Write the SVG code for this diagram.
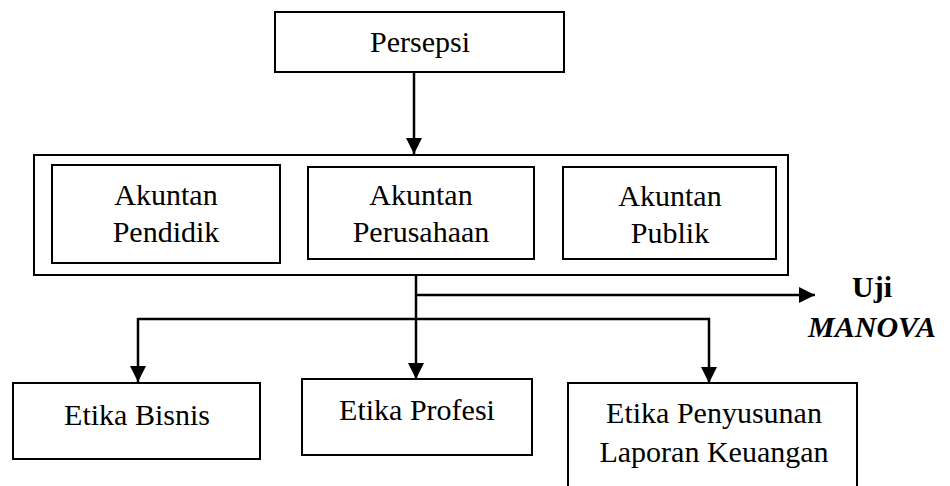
<svg xmlns="http://www.w3.org/2000/svg" width="950" height="486" viewBox="0 0 950 486">
<defs>
<marker id="ah" markerUnits="userSpaceOnUse" markerWidth="16" markerHeight="16" refX="15" refY="7.5" orient="auto" viewBox="0 0 15 15">
<path d="M0,0 L15,7.5 L0,15 z" fill="#000"/>
</marker>
</defs>
<rect width="950" height="486" fill="#fff"/>
<g id="persepsi">
<rect x="275" y="12" width="289" height="60" fill="#fff" stroke="#000" stroke-width="2"/>
<text x="420" y="52" font-family="Liberation Serif" font-size="30" text-anchor="middle">Persepsi</text>
</g>
<g id="akuntan-group">
<rect x="34" y="155" width="754" height="120" fill="#fff" stroke="#000" stroke-width="2"/>
</g>
<g id="akuntan-pendidik">
<rect x="52" y="165" width="228" height="98" fill="#fff" stroke="#000" stroke-width="2"/>
<text x="166" y="205" font-family="Liberation Serif" font-size="30" text-anchor="middle">Akuntan</text>
<text x="166" y="242" font-family="Liberation Serif" font-size="30" text-anchor="middle">Pendidik</text>
</g>
<g id="akuntan-perusahaan">
<rect x="308" y="167" width="226" height="92" fill="#fff" stroke="#000" stroke-width="2"/>
<text x="421" y="205" font-family="Liberation Serif" font-size="30" text-anchor="middle">Akuntan</text>
<text x="421" y="242" font-family="Liberation Serif" font-size="30" text-anchor="middle">Perusahaan</text>
</g>
<g id="akuntan-publik">
<rect x="563" y="167" width="213" height="92" fill="#fff" stroke="#000" stroke-width="2"/>
<text x="670" y="206" font-family="Liberation Serif" font-size="30" text-anchor="middle">Akuntan</text>
<text x="670" y="243" font-family="Liberation Serif" font-size="30" text-anchor="middle">Publik</text>
</g>
<g id="uji-manova">
<text x="872" y="297" font-family="Liberation Serif" font-size="30" font-weight="bold" text-anchor="middle">Uji</text>
<text x="872" y="337" font-family="Liberation Serif" font-size="30" font-weight="bold" font-style="italic" text-anchor="middle">MANOVA</text>
</g>
<g id="etika-bisnis">
<rect x="13" y="383" width="247" height="76" fill="#fff" stroke="#000" stroke-width="2"/>
<text x="137" y="425" font-family="Liberation Serif" font-size="30" text-anchor="middle">Etika Bisnis</text>
</g>
<g id="etika-profesi">
<rect x="302" y="379" width="230" height="76" fill="#fff" stroke="#000" stroke-width="2"/>
<text x="417" y="420" font-family="Liberation Serif" font-size="30" text-anchor="middle">Etika Profesi</text>
</g>
<g id="etika-penyusunan">
<rect x="568" y="383" width="289" height="110" fill="#fff" stroke="#000" stroke-width="2"/>
<text x="714" y="423" font-family="Liberation Serif" font-size="30" text-anchor="middle">Etika Penyusunan</text>
<text x="714" y="462" font-family="Liberation Serif" font-size="30" text-anchor="middle">Laporan Keuangan</text>
</g>
<g id="connectors" fill="none" stroke="#000" stroke-width="2.5">
<line x1="414" y1="72" x2="414" y2="154" marker-end="url(#ah)"/>
<line x1="416" y1="275" x2="416" y2="379" marker-end="url(#ah)"/>
<line x1="416" y1="295" x2="815" y2="295" marker-end="url(#ah)"/>
<polyline points="138,319 709,319 709,383" marker-end="url(#ah)"/>
<line x1="138" y1="318" x2="138" y2="382" marker-end="url(#ah)"/>
</g>
</svg>
